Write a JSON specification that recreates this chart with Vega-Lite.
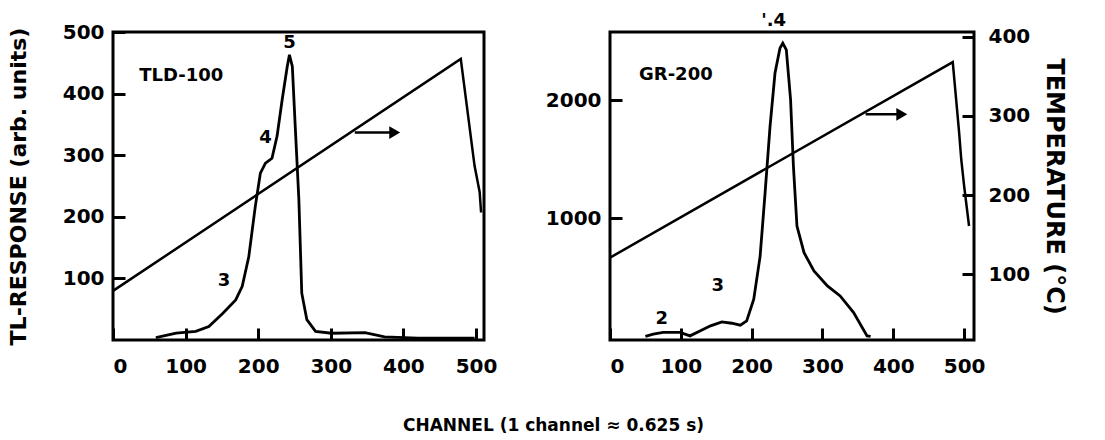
{
  "$schema": "https://vega.github.io/schema/vega-lite/v6.json",
  "background": "white",
  "padding": {"left": 5, "top": 10, "right": 5, "bottom": 5},
  "config": {
    "font": "DejaVu Sans",
    "view": {"stroke": "black", "strokeWidth": 3},
    "axis": {
      "domain": false, "grid": false, "zindex": 1,
      "tickColor": "black", "tickWidth": 3, "tickCap": "butt",
      "labelFont": "DejaVu Sans", "labelFontWeight": "bold", "labelColor": "black",
      "titleFont": "DejaVu Sans", "titleFontWeight": "bold", "titleColor": "black"
    }
  },
  "title": {"text": "CHANNEL  (1 channel ≈ 0.625 s)", "orient": "bottom", "anchor": "middle", "fontSize": 17, "fontWeight": "bold", "font": "DejaVu Sans", "color": "black", "offset": 40, "dx": 17},
  "datasets": {
    "tld": [
      {"ch": 59, "tl": 4}, {"ch": 87, "tl": 11}, {"ch": 114, "tl": 14}, {"ch": 132, "tl": 22},
      {"ch": 151, "tl": 43}, {"ch": 169, "tl": 65}, {"ch": 178, "tl": 87}, {"ch": 187, "tl": 135},
      {"ch": 196, "tl": 217}, {"ch": 203, "tl": 271}, {"ch": 210, "tl": 287}, {"ch": 219, "tl": 295},
      {"ch": 226, "tl": 331}, {"ch": 233, "tl": 390}, {"ch": 240, "tl": 444}, {"ch": 243, "tl": 463},
      {"ch": 247, "tl": 444}, {"ch": 251, "tl": 347}, {"ch": 256, "tl": 228}, {"ch": 260, "tl": 76},
      {"ch": 267, "tl": 33}, {"ch": 279, "tl": 14}, {"ch": 301, "tl": 11}, {"ch": 347, "tl": 12},
      {"ch": 374, "tl": 5}, {"ch": 420, "tl": 3}, {"ch": 498, "tl": 3}
    ],
    "gr": [
      {"ch": 50, "tl": 0}, {"ch": 61, "tl": 19}, {"ch": 75, "tl": 34}, {"ch": 99, "tl": 34},
      {"ch": 113, "tl": 5}, {"ch": 127, "tl": 47}, {"ch": 142, "tl": 90}, {"ch": 158, "tl": 124},
      {"ch": 172, "tl": 112}, {"ch": 184, "tl": 96}, {"ch": 193, "tl": 132}, {"ch": 203, "tl": 315},
      {"ch": 212, "tl": 681}, {"ch": 219, "tl": 1217}, {"ch": 226, "tl": 1780}, {"ch": 233, "tl": 2232},
      {"ch": 240, "tl": 2443}, {"ch": 244, "tl": 2485}, {"ch": 249, "tl": 2429}, {"ch": 255, "tl": 2006},
      {"ch": 259, "tl": 1442}, {"ch": 264, "tl": 935}, {"ch": 274, "tl": 710}, {"ch": 288, "tl": 555},
      {"ch": 307, "tl": 428}, {"ch": 325, "tl": 343}, {"ch": 344, "tl": 203}, {"ch": 363, "tl": 5},
      {"ch": 368, "tl": 0}
    ],
    "tempL": [
      {"ch": 0, "temp": 79}, {"ch": 479, "temp": 372}, {"ch": 498, "temp": 237},
      {"ch": 505, "temp": 204}, {"ch": 507, "temp": 178}
    ],
    "tempR": [
      {"ch": 0, "temp": 121}, {"ch": 484, "temp": 368}, {"ch": 493, "temp": 279},
      {"ch": 496, "temp": 245}, {"ch": 500, "temp": 212}, {"ch": 507, "temp": 161}
    ],
    "labL": [
      {"ch": 94, "tl": 428, "label": "TLD-100"},
      {"ch": 243, "tl": 482, "label": "5"},
      {"ch": 210, "tl": 328, "label": "4"},
      {"ch": 153, "tl": 95, "label": "3"}
    ],
    "labR": [
      {"ch": 93, "tl": 2217, "label": "GR-200"},
      {"ch": 73, "tl": 146, "label": "2"},
      {"ch": 152, "tl": 428, "label": "3"},
      {"ch": 231, "tl": 2676, "label": "'.4"}
    ],
    "arrowL": [{"ch": 333, "ch2": 388, "temp": 279}],
    "arrowR": [{"ch": 361, "ch2": 412, "temp": 302}]
  },
  "spacing": 44,
  "hconcat": [
    {
      "width": 371, "height": 308,
      "resolve": {"scale": {"y": "independent"}},
      "layer": [
        {
          "data": {"name": "tld"},
          "mark": {"type": "line", "color": "black", "strokeWidth": 2.8},
          "encoding": {
            "x": {"field": "ch", "type": "quantitative", "scale": {"domain": [0, 511], "nice": false},
                  "axis": {"values": [0, 100, 200, 300, 400, 500], "title": null, "labelFontSize": 20, "tickSize": -12, "labelPadding": 28}},
            "y": {"field": "tl", "type": "quantitative", "scale": {"domain": [0, 500], "nice": false},
                  "axis": {"values": [100, 200, 300, 400, 500], "title": "TL-RESPONSE (arb. units)", "labelFontSize": 20, "tickSize": -12, "labelPadding": 21, "titleFontSize": 22, "titlePadding": 32}}
          }
        },
        {
          "data": {"name": "labL"},
          "mark": {"type": "text", "color": "black", "fontSize": 18, "fontWeight": "bold", "baseline": "middle", "align": "center"},
          "encoding": {
            "x": {"field": "ch", "type": "quantitative", "scale": {"domain": [0, 511], "nice": false}},
            "y": {"field": "tl", "type": "quantitative", "scale": {"domain": [0, 500], "nice": false}, "axis": null},
            "text": {"field": "label"}
          }
        },
        {
          "data": {"name": "tempL"},
          "mark": {"type": "line", "color": "black", "strokeWidth": 2.5},
          "encoding": {
            "x": {"field": "ch", "type": "quantitative", "scale": {"domain": [0, 511], "nice": false}},
            "y": {"field": "temp", "type": "quantitative", "scale": {"domain": [17, 406], "nice": false}, "axis": null}
          }
        },
        {
          "data": {"name": "arrowL"},
          "layer": [
            {"mark": {"type": "rule", "color": "black", "strokeWidth": 2.5},
             "encoding": {
               "x": {"field": "ch", "type": "quantitative", "scale": {"domain": [0, 511], "nice": false}},
               "x2": {"field": "ch2"},
               "y": {"field": "temp", "type": "quantitative", "scale": {"domain": [17, 406], "nice": false}, "axis": null}
             }},
            {"mark": {"type": "point", "shape": "triangle-right", "filled": true, "color": "black", "size": 160, "opacity": 1},
             "encoding": {
               "x": {"field": "ch2", "type": "quantitative", "scale": {"domain": [0, 511], "nice": false}},
               "y": {"field": "temp", "type": "quantitative", "scale": {"domain": [17, 406], "nice": false}, "axis": null}
             }}
          ]
        }
      ]
    },
    {
      "width": 364, "height": 308,
      "resolve": {"scale": {"y": "independent"}},
      "layer": [
        {
          "data": {"name": "gr"},
          "mark": {"type": "line", "color": "black", "strokeWidth": 2.8},
          "encoding": {
            "x": {"field": "ch", "type": "quantitative", "scale": {"domain": [0, 514], "nice": false},
                  "axis": {"values": [0, 100, 200, 300, 400, 500], "title": null, "labelFontSize": 20, "tickSize": -12, "labelPadding": 28}},
            "y": {"field": "tl", "type": "quantitative", "scale": {"domain": [-30, 2580], "nice": false},
                  "axis": {"values": [1000, 2000], "format": "d", "title": null, "labelFontSize": 20, "tickSize": -12, "labelPadding": 21}}
          }
        },
        {
          "data": {"name": "labR"},
          "mark": {"type": "text", "color": "black", "fontSize": 18, "fontWeight": "bold", "baseline": "middle", "align": "center"},
          "encoding": {
            "x": {"field": "ch", "type": "quantitative", "scale": {"domain": [0, 514], "nice": false}},
            "y": {"field": "tl", "type": "quantitative", "scale": {"domain": [-30, 2580], "nice": false}, "axis": null},
            "text": {"field": "label"}
          }
        },
        {
          "data": {"name": "tempR"},
          "mark": {"type": "line", "color": "black", "strokeWidth": 2.5},
          "encoding": {
            "x": {"field": "ch", "type": "quantitative", "scale": {"domain": [0, 514], "nice": false}},
            "y": {"field": "temp", "type": "quantitative", "scale": {"domain": [17, 406], "nice": false},
                  "axis": {"orient": "right", "values": [100, 200, 300, 400], "title": "TEMPERATURE (°C)", "labelFontSize": 20, "tickSize": -12, "labelPadding": 26, "titleFontSize": 24, "titlePadding": 12}}
          }
        },
        {
          "data": {"name": "arrowR"},
          "layer": [
            {"mark": {"type": "rule", "color": "black", "strokeWidth": 2.5},
             "encoding": {
               "x": {"field": "ch", "type": "quantitative", "scale": {"domain": [0, 514], "nice": false}},
               "x2": {"field": "ch2"},
               "y": {"field": "temp", "type": "quantitative", "scale": {"domain": [17, 406], "nice": false}, "axis": null}
             }},
            {"mark": {"type": "point", "shape": "triangle-right", "filled": true, "color": "black", "size": 160, "opacity": 1},
             "encoding": {
               "x": {"field": "ch2", "type": "quantitative", "scale": {"domain": [0, 514], "nice": false}},
               "y": {"field": "temp", "type": "quantitative", "scale": {"domain": [17, 406], "nice": false}, "axis": null}
             }}
          ]
        }
      ]
    }
  ]
}
